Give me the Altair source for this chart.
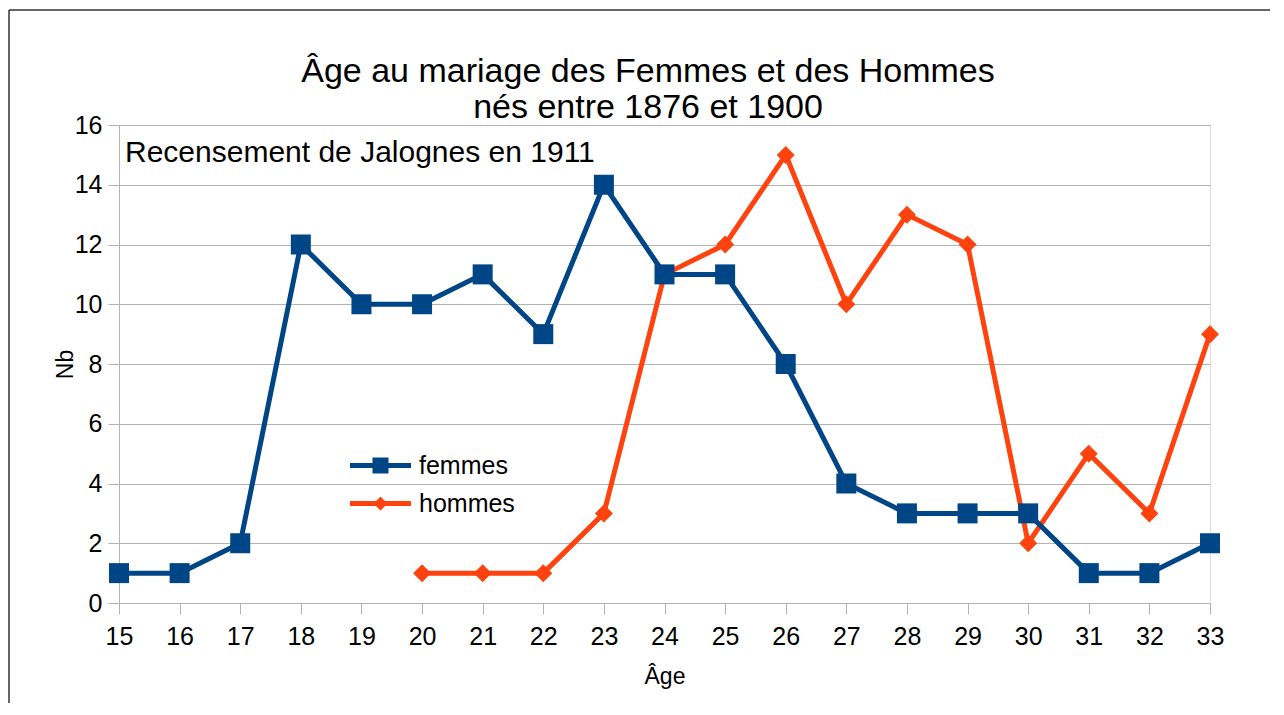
import altair as alt
import pandas as pd

# ---- data ----
ages_f = list(range(15, 34))
femmes = [1, 1, 2, 12, 10, 10, 11, 9, 14, 11, 11, 8, 4, 3, 3, 3, 1, 1, 2]
ages_h = list(range(20, 34))
hommes = [1, 1, 1, 3, 11, 12, 15, 10, 13, 12, 2, 5, 3, 9]
series = ["femmes", "hommes"]
colors = ["#004586", "#ff420e"]
x_ticks = list(range(15, 34))
y_ticks = list(range(0, 17, 2))
title_lines = ["Âge au mariage des Femmes et des Hommes", "nés entre 1876 et 1900"]
note = "Recensement de Jalognes en 1911"

df = pd.DataFrame({
    "age": ages_f + ages_h,
    "nb": femmes + hommes,
    "serie": ["femmes"] * len(femmes) + ["hommes"] * len(hommes),
})

FONT = "Liberation Sans"
W, H = 1091, 478
GRID = "#b3b3b3"

x = alt.X("age:Q",
          scale=alt.Scale(domain=[15, 33], nice=False, zero=False),
          axis=alt.Axis(values=x_ticks, title="Âge", grid=False, format="d",
                        labelFontSize=25, labelFont=FONT, labelColor="#000000",
                        labelPadding=10, tickSize=11, tickColor=GRID,
                        domainColor=GRID, titleFont=FONT, titleFontSize=23,
                        titleFontWeight="normal", titleColor="#000000",
                        titlePadding=16, labelFlush=False))
y = alt.Y("nb:Q",
          scale=alt.Scale(domain=[0, 16], nice=False),
          axis=alt.Axis(values=y_ticks, title="Nb", grid=True, gridColor=GRID,
                        labelFontSize=25, labelFont=FONT, labelColor="#000000",
                        labelPadding=6, tickSize=11, tickColor=GRID,
                        domainColor=GRID, titleFont=FONT, titleFontSize=23,
                        titleFontWeight="normal", titleColor="#000000",
                        titlePadding=-3))

base = alt.Chart(df)

def layer_for(name, col, shape, size):
    sub = base.transform_filter(alt.datum.serie == name)
    line = sub.mark_line(strokeWidth=5, color=col).encode(x=x, y=y)
    pts = sub.mark_point(shape=shape, filled=True, size=size, opacity=1, color=col).encode(x=x, y=y)
    return [line, pts]

sq_path = "M-3.05,-0.25H3.05V0.25H-3.05Z M-0.8,-0.8H0.8V0.8H-0.8Z"
di_path = "M-3.05,-0.25H3.05V0.25H-3.05Z M0,-0.7L0.7,0L0,0.7L-0.7,0Z"

leg = alt.Legend(title=None, orient="none", legendX=249, legendY=328,
                 symbolSize=400, labelFontSize=25, labelFont=FONT,
                 labelColor="#000000", labelOffset=26, rowPadding=12,
                 padding=0, symbolStrokeWidth=0, symbolOpacity=1)

legend_layer = base.transform_filter("false").mark_point(filled=True, opacity=1).encode(
    x=x, y=y,
    color=alt.Color("serie:N", scale=alt.Scale(domain=series, range=colors), legend=leg),
    shape=alt.Shape("serie:N", scale=alt.Scale(domain=series, range=[sq_path, di_path]), legend=leg),
)

one = pd.DataFrame({"k": [0]})
frame_top = alt.Chart(one).mark_rule(color="#333333", strokeWidth=1.5).encode(
    x=alt.value(-110), x2=alt.value(1200), y=alt.value(-115))
frame_left = alt.Chart(one).mark_rule(color="#333333", strokeWidth=1.5).encode(
    x=alt.value(-110), y=alt.value(-115), y2=alt.value(620))

title_text = alt.Chart(pd.DataFrame({"t": ["\n".join(title_lines)]})).mark_text(
    align="center", baseline="alphabetic", font=FONT, fontSize=34, color="#000000",
    lineBreak="\n", lineHeight=36
).encode(x=alt.value(529), y=alt.value(-43), text="t:N")

note_text = alt.Chart(pd.DataFrame({"t": [note]})).mark_text(
    align="left", baseline="middle", font=FONT, fontSize=30, color="#000000"
).encode(x=alt.value(6), y=alt.value(28), text="t:N")

chart = alt.layer(
    frame_top, frame_left,
    *layer_for("hommes", colors[1], "diamond", 324),
    *layer_for("femmes", colors[0], "square", 400),
    legend_layer,
    note_text,
    title_text,
).properties(
    width=W, height=H,
    autosize=alt.AutoSizeParams(type="none"),
    padding={"left": 111, "top": 117, "right": 60, "bottom": 100},
).configure_view(stroke=GRID, strokeWidth=1).configure(background="white")

chart.save("out.html", embed_options={"renderer": "svg", "actions": False})
